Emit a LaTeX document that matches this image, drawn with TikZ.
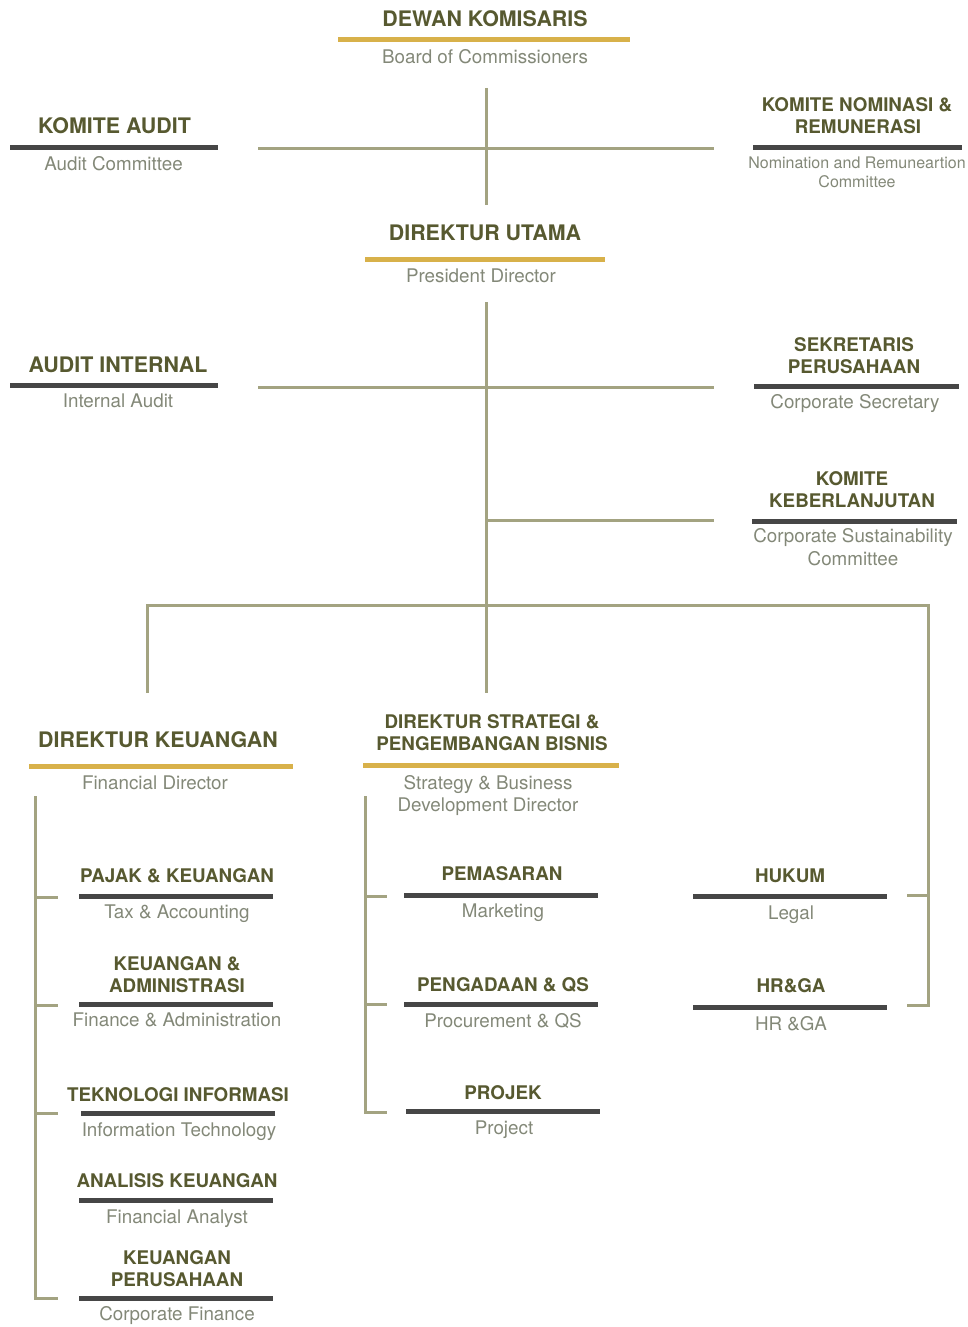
\documentclass[tikz,border=0pt]{standalone}
\usepackage{fontspec}
\setmainfont{TeX Gyre Heros}
\definecolor{titlec}{HTML}{575930}
\definecolor{subc}{HTML}{838878}
\definecolor{goldc}{HTML}{D8B14A}
\definecolor{darkc}{HTML}{464646}
\definecolor{connc}{HTML}{A3A381}
\begin{document}
\begin{tikzpicture}[x=1pt,y=-1pt,
  big/.style={font=\fontsize{21.4}{24}\selectfont\bfseries, text=titlec, inner sep=0pt, anchor=base},
  sec/.style={font=\fontsize{18.8}{22}\selectfont\bfseries, text=titlec, inner sep=0pt, anchor=base},
  sub/.style={font=\fontsize{18.8}{22}\selectfont, text=subc, inner sep=0pt, anchor=base},
  subsm/.style={font=\fontsize{16}{18}\selectfont, text=subc, inner sep=0pt, anchor=base},
  goldbar/.style={draw=goldc, line width=5pt},
  darkbar/.style={draw=darkc, line width=5pt},
  conn/.style={draw=connc, line width=3pt}]
\useasboundingbox (0,0) rectangle (968,1327);

% ---------- Dewan Komisaris
\node[big] (dk) at (485,26.5) {DEWAN KOMISARIS};
\draw[goldbar] (338,40) -- (630,40);
\node[sub] (dks) at (485,63.5) {Board of Commissioners};

% ---------- Komite Audit
\node[big] (ka) at (114.5,133) {KOMITE AUDIT};
\draw[darkbar] (10,147.5) -- (218,147.5);
\node[sub] (kas) at (113.5,170) {Audit Committee};

% ---------- Komite Nominasi
\node[sec] (kn1) at (857,112) {KOMITE NOMINASI \&};
\node[sec] (kn2) at (858,133) {REMUNERASI};
\draw[darkbar] (753,147) -- (962,147);
\node[subsm] (kns1) at (857,168) {Nomination and Remuneartion};
\node[subsm] (kns2) at (857,187) {Committee};

% ---------- Direktur Utama
\node[big] (du) at (485,240.5) {DIREKTUR UTAMA};
\draw[goldbar] (365,259) -- (605,259);
\node[sub] (dus) at (481,282) {President Director};

% ---------- Audit Internal
\node[big] (ai) at (118,372.5) {AUDIT INTERNAL};
\draw[darkbar] (10,385) -- (218,385);
\node[sub] (ais) at (118,407) {Internal Audit};

% ---------- Sekretaris Perusahaan
\node[sec] (sp1) at (854,351.5) {SEKRETARIS};
\node[sec] (sp2) at (854,373) {PERUSAHAAN};
\draw[darkbar] (754,386.5) -- (959,386.5);
\node[sub] (sps) at (855,408) {Corporate Secretary};

% ---------- Komite Keberlanjutan
\node[sec] (kk1) at (852,485) {KOMITE};
\node[sec] (kk2) at (852,507) {KEBERLANJUTAN};
\draw[darkbar] (752,521.5) -- (957,521.5);
\node[sub] (kks1) at (853,542.5) {Corporate Sustainability};
\node[sub] (kks2) at (853,565) {Committee};

% ---------- Direktur Keuangan
\node[big] (dkeu) at (158,747.5) {DIREKTUR KEUANGAN};
\draw[goldbar] (29,766.5) -- (293,766.5);
\node[sub] (dkeus) at (155,789) {Financial Director};

% ---------- Direktur Strategi
\node[sec] (ds1) at (492,728) {DIREKTUR STRATEGI \&};
\node[sec] (ds2) at (492,750) {PENGEMBANGAN BISNIS};
\draw[goldbar] (363,765) -- (619,765);
\node[sub] (dss1) at (488,789) {Strategy \& Business};
\node[sub] (dss2) at (488,811.5) {Development Director};

% ---------- Finance units
\node[sec] (pk) at (177,882) {PAJAK \& KEUANGAN};
\draw[darkbar] (79,896.5) -- (273,896.5);
\node[sub] (pks) at (177,918.5) {Tax \& Accounting};

\node[sec] (ka1) at (177,970) {KEUANGAN \&};
\node[sec] (ka2) at (177,992) {ADMINISTRASI};
\draw[darkbar] (79,1004) -- (273,1004);
\node[sub] (kas2) at (177,1026.5) {Finance \& Administration};

\node[sec] (ti) at (178,1101) {TEKNOLOGI INFORMASI};
\draw[darkbar] (81,1113.5) -- (275,1113.5);
\node[sub] (tis) at (179,1136) {Information Technology};

\node[sec] (ak) at (177,1187) {ANALISIS KEUANGAN};
\draw[darkbar] (79,1200.5) -- (273,1200.5);
\node[sub] (aks) at (177,1223) {Financial Analyst};

\node[sec] (kp1) at (177,1264) {KEUANGAN};
\node[sec] (kp2) at (177,1286) {PERUSAHAAN};
\draw[darkbar] (79,1298.5) -- (273,1298.5);
\node[sub] (kps) at (177,1320.5) {Corporate Finance};

% ---------- Strategy units
\node[sec] (pm) at (502,880) {PEMASARAN};
\draw[darkbar] (404,895) -- (598,895);
\node[sub] (pms) at (503,917.5) {Marketing};

\node[sec] (pq) at (503,991) {PENGADAAN \& QS};
\draw[darkbar] (404,1004) -- (598,1004);
\node[sub] (pqs) at (503,1027.5) {Procurement \& QS};

\node[sec] (pj) at (503,1099) {PROJEK};
\draw[darkbar] (406,1111) -- (600,1111);
\node[sub] (pjs) at (504,1134.5) {Project};

% ---------- Other units
\node[sec] (hk) at (790,882) {HUKUM};
\draw[darkbar] (693,896.5) -- (887,896.5);
\node[sub] (hks) at (791,919) {Legal};

\node[sec] (hr) at (791,992) {HR\&GA};
\draw[darkbar] (693,1007.5) -- (887,1007.5);
\node[sub] (hrs) at (791,1030) {HR \&GA};

% ---------- connector coordinates
\coordinate (c1t) at (486,88);
\coordinate (c1b) at (486,205);
\coordinate (h1l) at (258,148);
\coordinate (h1r) at (714,148);
\coordinate (c2t) at (486,302);
\coordinate (c2b) at (486,693);
\coordinate (h2l) at (258,387);
\coordinate (h2r) at (714,387);
\coordinate (h3l) at (486,520);
\coordinate (h3r) at (714,520);
\coordinate (h4l) at (147,605);
\coordinate (h4r) at (928,605);
\coordinate (v4l) at (147,693);
\coordinate (v4r) at (928,1005);
\coordinate (r1a) at (907,895);
\coordinate (r1b) at (928,895);
\coordinate (r2a) at (907,1005);
\coordinate (lt) at (35,796);
\coordinate (lb) at (35,1298);
\coordinate (mt) at (365,796);
\coordinate (mb) at (365,1112);

\draw[conn] (c1t) -- (c1b);
\draw[conn] (h1l) -- (h1r);
\draw[conn] (c2t) -- (c2b);
\draw[conn] (h2l) -- (h2r);
\draw[conn] (h3l) -- (h3r);
\draw[conn] (v4l) -- (h4l) -- (h4r) -- (v4r) -- (r2a);
\draw[conn] (r1a) -- (r1b);

% left bracket
\draw[conn] (lt) -- (lb) -- ++(23,0);
\foreach \yy in {897,1005,1113} \draw[conn] (35,\yy) -- ++(23,0);
% middle bracket
\draw[conn] (mt) -- (mb) -- ++(22,0);
\foreach \yy in {896,1004} \draw[conn] (365,\yy) -- ++(22,0);
\end{tikzpicture}
\end{document}
